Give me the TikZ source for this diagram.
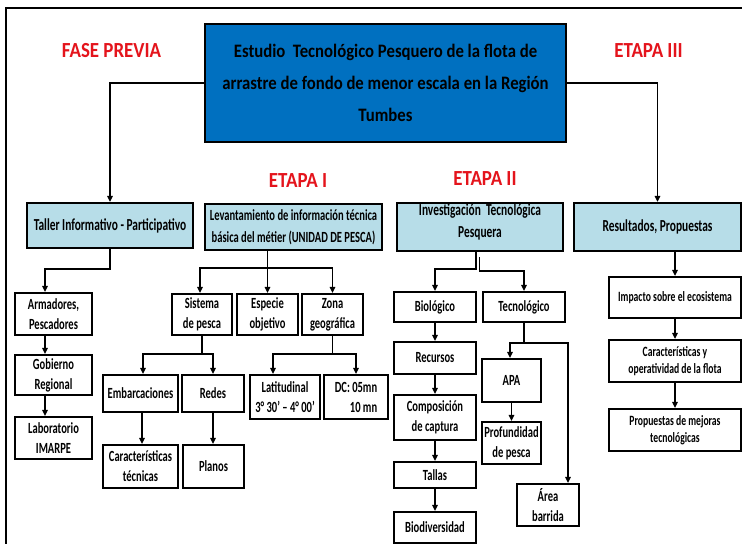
\documentclass[tikz,border=0pt]{standalone}
\usepackage{fontspec}
\setmainfont{Carlito}
\newfontfamily\headfont{Carlito}[FakeStretch=0.88]
\newfontfamily\boxfont{Carlito}[FakeStretch=0.68]
\usetikzlibrary{arrows.meta, positioning, calc}
\definecolor{hdblue}{RGB}{0,112,192}
\definecolor{paleblue}{RGB}{183,221,232}
\definecolor{tagred}{RGB}{228,20,28}

\begin{document}
\begin{tikzpicture}[
  x=1pt, y=-1pt,
  arr/.style={draw, line width=1.8pt, -{Triangle[length=6pt,width=5.5pt]}},
  link/.style={draw, line width=1.8pt},
  box/.style={draw, line width=2.2pt, fill=white, align=center, inner sep=1pt, font=\boxfont\bfseries\fontsize{15.5}{20}\selectfont},
  hbox/.style={box, fill=paleblue, font=\boxfont\bfseries\fontsize{16.8}{22}\selectfont},
  rbox/.style={box, font=\boxfont\bfseries\fontsize{14.2}{17.5}\selectfont},
  tag/.style={text=tagred, font=\headfont\bfseries\fontsize{21.5}{24}\selectfont}
  ]
  \useasboundingbox (0,0) rectangle (742,544);
  \draw[line width=2pt] (742,8) -- (6,8) -- (6,544);
  % header
  \node[box, fill=hdblue, line width=2.6pt, minimum width=361, minimum height=118,
    font=\headfont\bfseries\fontsize{19}{32}\selectfont] (main) at (385.5,83)
    {Estudio\ \ Tecnológico Pesquero de la flota de\\arrastre de fondo de menor escala en la Región\\Tumbes};
  \node[tag] (fase) at (111.5,51) {FASE PREVIA};
  \node[tag] (etapa3) at (648.5,51) {ETAPA III};
  \node[tag] (etapa1) at (298,181) {ETAPA I};
  \node[tag] (etapa2) at (485,179) {ETAPA II};
  % stages
  \node[hbox, minimum width=166, minimum height=45] (taller) at (110,225.5) {Taller Informativo - Participativo};
  \node[hbox, minimum width=177, minimum height=46, font=\boxfont\bfseries\fontsize{15.5}{22}\selectfont] (lev) at (293.5,227)
    {Levantamiento de información técnica\\básica del métier (UNIDAD DE PESCA)};
  \node[hbox, minimum width=166, minimum height=48, text depth=12pt] (inv) at (480,227) {Investigación\ \ Tecnológica\\Pesquera};
  \node[hbox, minimum width=167, minimum height=48] (res) at (657.5,227) {Resultados, Propuestas};
  % fase previa
  \node[box, minimum width=77, minimum height=42] (arm) at (53.5,314) {Armadores,\\Pescadores};
  \node[box, minimum width=77, minimum height=40] (gob) at (53.5,375) {Gobierno\\Regional};
  \node[box, minimum width=77, minimum height=42] (lab) at (53.5,438) {Laboratorio\\IMARPE};
  % etapa I
  \node[box, minimum width=60, minimum height=41] (sis) at (202,314.5) {Sistema\\de pesca};
  \node[box, minimum width=61, minimum height=41] (esp) at (267.5,314.5) {Especie\\objetivo};
  \node[box, minimum width=61, minimum height=41] (zona) at (332.5,314.5) {Zona\\geográfica};
  \node[box, minimum width=75, minimum height=37] (emb) at (140.5,393.5) {Embarcaciones};
  \node[box, minimum width=62, minimum height=37] (redes) at (213,393.5) {Redes};
  \node[box, minimum width=70, minimum height=44] (lat) at (285,397) {Latitudinal\\3° 30’ – 4° 00’};
  \node[box, minimum width=64, minimum height=44, align=right] (dc) at (356,397) {DC: 05mn\\10 mn};
  \node[box, minimum width=75, minimum height=43] (car) at (140.5,466.5) {Características\\técnicas};
  \node[box, minimum width=61, minimum height=43] (planos) at (213.5,466.5) {Planos};
  % etapa II
  \node[box, minimum width=82, minimum height=30] (bio) at (435,307) {Biológico};
  \node[box, minimum width=82, minimum height=30] (tec) at (524,307) {Tecnológico};
  \node[box, minimum width=82, minimum height=32] (rec) at (435,358) {Recursos};
  \node[box, minimum width=82, minimum height=45] (comp) at (435,417.5) {Composición\\de captura};
  \node[box, minimum width=82, minimum height=26] (tallas) at (435,475) {Tallas};
  \node[box, minimum width=82, minimum height=31] (biod) at (435,527.5) {Biodiversidad};
  \node[box, minimum width=59, minimum height=43] (apa) at (511.5,380.5) {APA};
  \node[box, minimum width=59, minimum height=42] (prof) at (511.5,443) {Profundidad\\de pesca};
  \node[box, minimum width=62, minimum height=42] (area) at (548,505) {Área\\barrida};
  % etapa III
  \node[rbox, minimum width=132, minimum height=41] (imp) at (675,297.5) {Impacto sobre el ecosistema};
  \node[rbox, minimum width=132, minimum height=42] (carop) at (675,361) {Características y\\operatividad de la flota};
  \node[rbox, minimum width=132, minimum height=42] (prop) at (675,430) {Propuestas de mejoras\\tecnológicas};

  % connectors
  \draw[arr] (main.west) -| (taller.north);
  \draw[arr] (main.east) -| (res.north);
  \draw[arr] (taller.south) -- ++(0,20) -| ([xshift=-8.5pt]arm.north);
  \draw[arr] ([xshift=-8.5pt]arm.south) -- ([xshift=-8.5pt]gob.north);
  \draw[arr] ([xshift=-8.5pt]gob.south) -- ([xshift=-8.5pt]lab.north);

  \coordinate (levfork) at (267.5,268);
  \draw[link] (lev.south -| esp.north) -- (levfork);
  \draw[arr] (levfork) -- (esp.north);
  \draw[arr] (levfork) -| ([xshift=-2pt]sis.north);
  \draw[arr] (levfork) -| (zona.north);
  \draw[arr] (sis.south) -- ++(0,18) -| ([xshift=2.5pt]emb.north);
  \draw[arr] (sis.south) -- ++(0,18) -| (redes.north);
  \draw[arr] (zona.south) -- ++(0,18) -| ([xshift=-12pt]lat.north);
  \draw[arr] (zona.south) -- ++(0,18) -| (dc.north);
  \draw[arr] ([xshift=1.5pt]emb.south) -- ([xshift=1.5pt]car.north);
  \draw[arr] (redes.south) -- (planos.north -| redes.south);

  \coordinate (invtap) at (479.5,257);
  \draw[arr] ([xshift=-4pt]inv.south) -- ++(0,17) -| (bio.north);
  \draw[arr] (invtap) -- ++(0,14) -| (tec.north);
  \foreach \a/\b in {bio/rec, rec/comp, comp/tallas, tallas/biod}
    \draw[arr] (\a.south) -- (\b.north);
  \draw[arr] (tec.south) -- ++(0,20) -| ([xshift=-1.5pt]apa.north);
  \draw[arr] (tec.south) -- ++(0,20) -| ([xshift=20pt]area.north);
  \draw[arr] (apa.south) -- (prof.north);

  \draw[arr] (imp.north |- res.south) -- (imp.north);
  \foreach \a/\b in {imp/carop, carop/prop}
    \draw[arr] (\a.south) -- (\b.north);
\end{tikzpicture}
\end{document}
